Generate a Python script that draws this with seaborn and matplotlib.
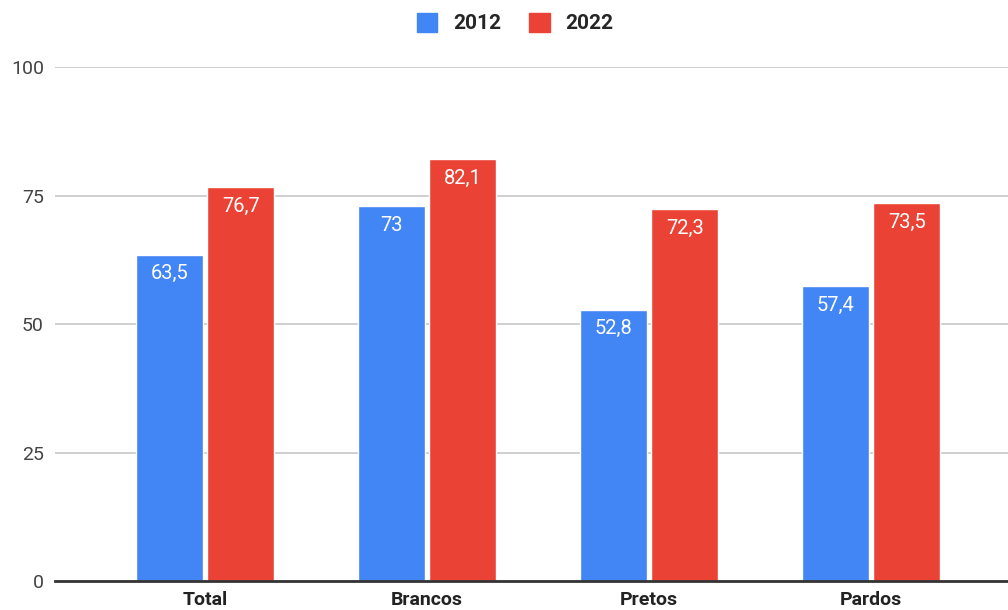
import pandas as pd
import numpy as np
import matplotlib.pyplot as plt
import seaborn as sns
from matplotlib.patches import Patch

sns.set_style('white')
plt.rcParams['font.family'] = ['Roboto', 'DejaVu Sans']

# dados
categorias = ['Total', 'Brancos', 'Pretos', 'Pardos']
anos = ['2012', '2022']
valores_2012 = [63.5, 73, 52.8, 57.4]
valores_2022 = [76.7, 82.1, 72.3, 73.5]
rotulos_2012 = ['63,5', '73', '52,8', '57,4']
rotulos_2022 = ['76,7', '82,1', '72,3', '73,5']
yticks = [0, 25, 50, 75, 100]

df = pd.DataFrame({
    'categoria': categorias * 2,
    'ano': [anos[0]] * 4 + [anos[1]] * 4,
    'valor': valores_2012 + valores_2022,
})

cores = {'2012': '#4285F4', '2022': '#EA4335'}

fig = plt.figure(figsize=(10.08, 6.10), dpi=100)
ax = fig.add_axes([0.0546, 0.0475, 0.9454, 0.8425])

sns.barplot(data=df, x='categoria', y='valor', hue='ano', palette=cores,
            width=0.645, gap=0.065, saturation=1, ax=ax, legend=False)

# rótulos dentro das barras
rotulos = rotulos_2012 + rotulos_2022
for p, lbl in zip(ax.patches, rotulos):
    ax.annotate(lbl, (p.get_x() + p.get_width() / 2, p.get_height()),
                xytext=(0, -7), textcoords='offset points',
                ha='center', va='top', color='white', fontsize=14.5)

ax.set_ylim(0, 100)
ax.set_xlim(-0.676, 3.617)
ax.set_yticks(yticks)
ax.set_yticklabels([str(t) for t in yticks])
ax.grid(axis='y', color='#cccccc', linewidth=1.3)
ax.set_axisbelow(True)
for s in ['top', 'right', 'left']:
    ax.spines[s].set_visible(False)
ax.spines['bottom'].set_color('#333333')
ax.spines['bottom'].set_linewidth(2)
ax.spines['bottom'].set_zorder(5)
ax.tick_params(axis='y', length=0, pad=8, labelsize=14, labelcolor='#444444')
ax.tick_params(axis='x', length=0, pad=7, labelsize=14, labelcolor='#222222')
for t in ax.get_xticklabels():
    t.set_fontweight('bold')
ax.set_xlabel('')
ax.set_ylabel('')

# legenda
handles = [Patch(facecolor=cores[a], edgecolor=cores[a]) for a in anos]
fig.legend(handles, anos, loc='center', bbox_to_anchor=(0.511, 0.962), ncol=2,
           frameon=False, handlelength=1.0, handleheight=1.0, handletextpad=0.75,
           columnspacing=1.35, prop={'weight': 'bold', 'size': 15})

plt.savefig('out.png', dpi=100)
